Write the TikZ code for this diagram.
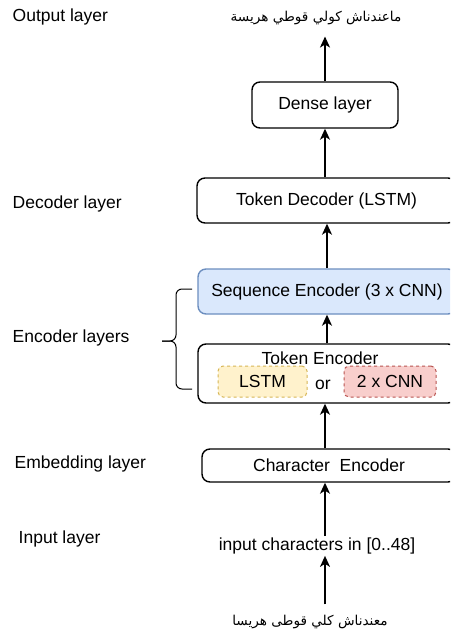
\documentclass[tikz,border=0pt]{standalone}
\usepackage{fontspec}
\setsansfont{Liberation Sans}
\newfontfamily\arabicfont[Script=Arabic]{DejaVu Sans}
\TeXXeTstate=1
\usetikzlibrary{arrows.meta, positioning}
\definecolor{cblue}{HTML}{DAE8FC}
\definecolor{cbluedraw}{HTML}{6C8EBF}
\definecolor{cyellow}{HTML}{FFF2CC}
\definecolor{cyellowdraw}{HTML}{D6B656}
\definecolor{cred}{HTML}{F8CECC}
\definecolor{creddraw}{HTML}{B85450}
\tikzset{
  every picture/.style={font=\sffamily\fontsize{17.5}{21}\selectfont, line width=1.4pt},
  box/.style={draw, fill=white, rounded corners=8pt, align=center, inner sep=0pt, minimum height=45pt, minimum width=258pt},
  arrow/.style={-{Stealth[length=11pt, width=10pt, inset=3pt]}, line width=1.4pt},
  lab/.style={anchor=west, inner sep=0pt},
  txt/.style={inner sep=1pt},
  arab/.style={inner xsep=1pt, inner ysep=#1, font=\arabicfont\fontsize{13.6}{16}\selectfont},
}

\begin{document}
\begin{tikzpicture}[x=1pt, y=-1pt, opt/.style={draw=#1draw, fill=#1, dashed, rounded corners=5pt, minimum width=89pt, minimum height=31pt, inner sep=0pt, line width=1pt}]
\clip (0,0) rectangle (450,632);
% layer names
\node[lab] (outlab) at (12,17) {Output layer};
\node[lab] (declab) at (12,204) {Decoder layer};
\node[lab] (enclab) at (12,338) {Encoder layers};
\node[lab] (emblab) at (14,464) {Embedding layer};
\node[lab] (inlab) at (18,539) {Input layer};
% brace
\draw[line width=1pt, rounded corners=6pt] (192,289) -- (176,289) -- (176,341) -- (162,341);
\draw[line width=1pt, rounded corners=6pt] (192,389) -- (176,389) -- (176,341) -- (162,341);
% output
\node[arab=11pt] (outtext) at (316,18) {\beginR ماعندناش كولي قوطي هريسة\endR};
\node[box, minimum width=146pt, minimum height=46pt] (dense) at (325,105) {Dense layer};
\node[box, minimum width=259pt] (decoder) at (326.5,200.5) {Token Decoder (LSTM)};
% encoders
\node[box, draw=cbluedraw, fill=cblue] (seqenc) at (327,291.5) {Sequence Encoder (3 x CNN)};
\node[box, minimum height=59pt] (tokenenc) at (327,373.5) {};
\node[txt] (tokentitle) at (320,358) {Token Encoder};
\node[opt=cyellow] (lstm) at (262.5,381.5) {LSTM};
\node[txt] (or) at (323,385) {or};
\node[opt=cred, minimum width=92pt] (cnn) at (390,381.5) {2 x CNN};
% input
\node[box, minimum width=254pt, minimum height=33pt] (charenc) at (329,465.5) {Character\ \ Encoder};
\node[txt] (input) at (317,546) {input characters in [0..48]};
\node[arab=10pt] (intext) at (310,622) {\beginR معندناش كلي قوطى هريسا\endR};
% arrows
\draw[arrow] (dense) -- (dense |- outtext.south);
\draw[arrow] (decoder.north -| dense) -- (dense);
\draw[arrow] (seqenc) -- (seqenc |- decoder.south);
\draw[arrow] (tokenenc) -- (seqenc);
\draw[arrow] (charenc.north -| dense) -- (dense |- tokenenc.south);
\draw[arrow] (input.north -| dense) -- (dense |- charenc.south);
\draw[arrow] (intext.north -| dense) -- (dense |- input.south);
\end{tikzpicture}
\end{document}
